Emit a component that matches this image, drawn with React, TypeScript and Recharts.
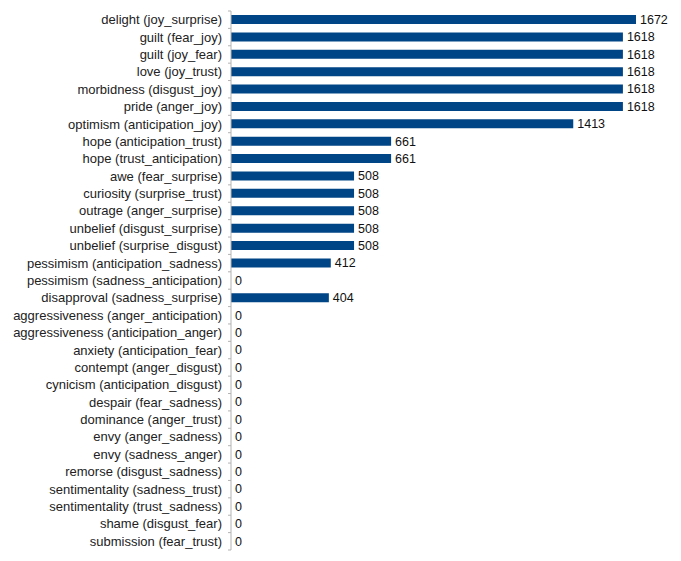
import { BarChart, Bar, XAxis, YAxis, LabelList } from "recharts";

// emotion dyads, top to bottom
const emotions = [
  "delight (joy_surprise)",
  "guilt (fear_joy)",
  "guilt (joy_fear)",
  "love (joy_trust)",
  "morbidness (disgust_joy)",
  "pride (anger_joy)",
  "optimism (anticipation_joy)",
  "hope (anticipation_trust)",
  "hope (trust_anticipation)",
  "awe (fear_surprise)",
  "curiosity (surprise_trust)",
  "outrage (anger_surprise)",
  "unbelief (disgust_surprise)",
  "unbelief (surprise_disgust)",
  "pessimism (anticipation_sadness)",
  "pessimism (sadness_anticipation)",
  "disapproval (sadness_surprise)",
  "aggressiveness (anger_anticipation)",
  "aggressiveness (anticipation_anger)",
  "anxiety (anticipation_fear)",
  "contempt (anger_disgust)",
  "cynicism (anticipation_disgust)",
  "despair (fear_sadness)",
  "dominance (anger_trust)",
  "envy (anger_sadness)",
  "envy (sadness_anger)",
  "remorse (disgust_sadness)",
  "sentimentality (sadness_trust)",
  "sentimentality (trust_sadness)",
  "shame (disgust_fear)",
  "submission (fear_trust)",
];

const counts = [
  1672, 1618, 1618, 1618, 1618, 1618, 1413, 661, 661, 508, 508, 508, 508, 508,
  412, 0, 404, 0, 0, 0, 0, 0, 0, 0, 0, 0, 0, 0, 0, 0, 0,
];

const data = emotions.map((name, i) => ({ name, count: counts[i] }));

const W = 681;
const H = 561;
const AXIS_W = 231;
const MARGIN = { top: 11, right: 14, bottom: 11, left: 0 };
const FONT = "'Liberation Sans', Arial, sans-serif";
const BAND = (H - MARGIN.top - MARGIN.bottom) / emotions.length;

function CategoryTick(props: any) {
  const { y, payload, index } = props;
  const ax = MARGIN.left + AXIS_W;
  const isLast = index === emotions.length - 1;
  return (
    <g>
      <line x1={ax - 3} x2={ax} y1={y - BAND / 2} y2={y - BAND / 2} stroke="#b3b3b3" />
      {isLast && (
        <line x1={ax - 3} x2={ax} y1={y + BAND / 2} y2={y + BAND / 2} stroke="#b3b3b3" />
      )}
      <text
        x={ax - 9}
        y={y}
        textAnchor="end"
        dominantBaseline="central"
        fontSize={13}
        fontFamily={FONT}
        fill="#222"
      >
        {payload.value}
      </text>
    </g>
  );
}

export default function App() {
  return (
    <div style={{ position: "absolute", left: 0, top: 0, background: "#fff" }}>
      <BarChart width={W} height={H} data={data} layout="vertical" margin={MARGIN}>
        <XAxis type="number" domain={[0, 1800]} hide />
        <YAxis
          type="category"
          dataKey="name"
          width={AXIS_W}
          interval={0}
          tickLine={false}
          axisLine={{ stroke: "#b3b3b3" }}
          tick={<CategoryTick />}
        />
        <Bar
          dataKey="count"
          fill="#004586"
          barSize={9}
          minPointSize={0.01}
          isAnimationActive={false}
        >
          <LabelList
            dataKey="count"
            position="right"
            offset={4}
            fontSize={12.5}
            fontFamily={FONT}
            fill="#111"
          />
        </Bar>
      </BarChart>
    </div>
  );
}
